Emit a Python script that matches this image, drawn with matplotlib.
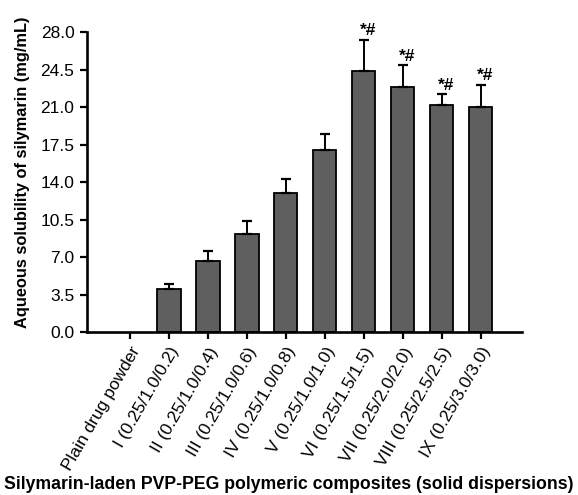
import matplotlib
matplotlib.use("Agg")
import matplotlib.pyplot as plt
import numpy as np

plt.rcParams['font.family'] = ['Liberation Sans', 'DejaVu Sans']

categories = ["Plain drug powder", "I (0.25/1.0/0.2)", "II (0.25/1.0/0.4)", "III (0.25/1.0/0.6)",
              "IV (0.25/1.0/0.8)", "V (0.25/1.0/1.0)", "VI (0.25/1.5/1.5)", "VII (0.25/2.0/2.0)",
              "VIII (0.25/2.5/2.5)", "IX (0.25/3.0/3.0)"]
values = [0.0, 4.0, 6.6, 9.2, 13.0, 17.0, 24.4, 22.9, 21.2, 21.0]
errors = [0.0, 0.5, 1.0, 1.2, 1.3, 1.5, 2.9, 2.0, 1.0, 2.1]
marks = ["", "", "", "", "", "", "*#", "*#", "*#", "*#"]
yticks = [0.0, 3.5, 7.0, 10.5, 14.0, 17.5, 21.0, 24.5, 28.0]

fig = plt.figure(figsize=(5.78, 4.95), dpi=100)
ax = fig.add_axes([0.1505, 0.329, 0.752, 0.606])
x = np.arange(len(categories))
edges = ['black' if v > 0 else 'none' for v in values]
ax.bar(x, values, width=0.6, color='#5f5f5f', edgecolor=edges, linewidth=1.3, zorder=2)
has_err = np.array(errors) > 0
ax.errorbar(x[has_err], np.array(values)[has_err],
            yerr=[np.zeros(has_err.sum()), np.array(errors)[has_err]], fmt='none', ecolor='black',
            elinewidth=1.4, capsize=3.5, capthick=1.6, zorder=3)
for xi, v, e, m in zip(x, values, errors, marks):
    if m:
        ax.text(xi + 0.1, v + e + 0.15, m, ha='center', va='bottom', fontsize=12.5, fontweight='bold')

ax.set_xlim(-1.1, 10.05)
ax.set_ylim(0, 28.0)
ax.set_yticks(yticks)
ax.set_yticklabels([f"{t:.1f}" for t in yticks], fontsize=12.5)
ax.set_xticks(x)
ax.set_xticklabels(categories, rotation=60, ha='right', rotation_mode='anchor', fontsize=12.5)
for s in ['top', 'right']:
    ax.spines[s].set_visible(False)
for s in ['left', 'bottom']:
    ax.spines[s].set_linewidth(1.9)
ax.tick_params(axis='both', width=1.6, length=5, direction='out', pad=4)
ax.set_ylabel("Aqueous solubility of silymarin (mg/mL)", fontsize=11.8, fontweight='bold')
ax.yaxis.set_label_coords(-0.131, 0.533)
fig.text(0.5, 0.005, "Silymarin-laden PVP-PEG polymeric composites (solid dispersions)",
         ha='center', va='bottom', fontsize=12.7, fontweight='bold')

fig.savefig("out.png", dpi=100)
